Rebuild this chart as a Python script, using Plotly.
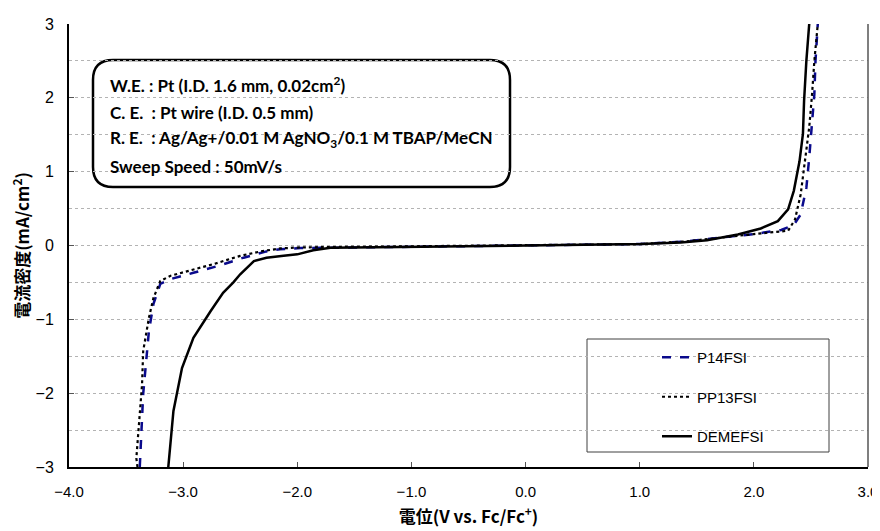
import plotly.graph_objects as go

# ---- data ----
p14_x = [-3.38, -3.35, -3.30, -3.26, -3.20, -3.10, -2.91, -2.70, -2.47, -2.27, -2.15, -1.97, -1.68, -1.16,
         -0.5, 0.0, 0.5, 1.0, 1.4, 1.7, 2.0, 2.24, 2.35, 2.41, 2.46, 2.485, 2.505, 2.53, 2.54, 2.56]
p14_y = [-3.0, -2.01, -1.16, -0.79, -0.52, -0.45, -0.37, -0.28, -0.165, -0.08, -0.05, -0.035, -0.03, -0.02,
         -0.01, 0.0, 0.005, 0.02, 0.055, 0.11, 0.155, 0.21, 0.28, 0.42, 0.78, 1.19, 1.60, 2.05, 2.50, 3.0]

pp13_x = [-3.40, -3.41, -3.38, -3.36, -3.35, -3.30, -3.26, -3.20, -3.11, -2.97, -2.73, -2.50, -2.32, -2.15,
          -1.97, -1.6, -1.0, -0.5, 0.0, 0.5, 1.0, 1.4, 1.7, 2.0, 2.30, 2.36, 2.41, 2.44, 2.485, 2.51, 2.53, 2.56]
pp13_y = [-3.0, -2.88, -2.28, -1.88, -1.43, -0.98, -0.71, -0.48, -0.41, -0.35, -0.25, -0.14, -0.08, -0.04,
          -0.025, -0.02, -0.01, -0.005, 0.0, 0.005, 0.02, 0.055, 0.11, 0.155, 0.2, 0.35, 0.69, 1.05, 1.6, 2.05, 2.5, 3.0]

deme_x = [-3.13, -3.085, -3.01, -2.91, -2.76, -2.65, -2.56, -2.50, -2.38, -2.27, -2.12, -2.00, -1.86, -1.71,
          -1.1, -0.5, 0.0, 0.54, 1.01, 1.36, 1.59, 1.86, 2.06, 2.21, 2.30, 2.35, 2.40, 2.43, 2.44, 2.46, 2.485]
deme_y = [-3.0, -2.24, -1.66, -1.25, -0.89, -0.64, -0.50, -0.39, -0.21, -0.165, -0.14, -0.12, -0.065, -0.03,
          -0.02, -0.01, 0.0, 0.005, 0.02, 0.04, 0.07, 0.15, 0.23, 0.33, 0.49, 0.74, 1.14, 1.51, 1.96, 2.50, 3.0]

series_names = ["P14FSI", "PP13FSI", "DEMEFSI"]
x_ticks = [-4, -3, -2, -1, 0, 1, 2, 3]
y_ticks = [-3, -2, -1, 0, 1, 2, 3]

info_lines = [
    "W.E. : Pt (I.D. 1.6 mm, 0.02cm<sup>2</sup>)",
    "C. E.  : Pt wire (I.D. 0.5 mm)",
    "R. E.  : Ag/Ag+/0.01 M AgNO<sub>3</sub>/0.1 M TBAP/MeCN",
    "Sweep Speed : 50mV/s",
]

AX_FONT = "Liberation Sans"

fig = go.Figure()
fig.add_trace(go.Scatter(x=p14_x, y=p14_y, mode="lines", name=series_names[0], legendgroup="a",
                         line=dict(color="#0a0a8c", width=2.5, dash="dash")))
fig.add_trace(go.Scatter(x=pp13_x, y=pp13_y, mode="lines", name=series_names[1], legendgroup="b",
                         line=dict(color="black", width=2.2, dash="dot")))
fig.add_trace(go.Scatter(x=deme_x, y=deme_y, mode="lines", name=series_names[2], legendgroup="c",
                         line=dict(color="black", width=2.5)))

# page has an 8px body margin; plot area in page pixels: x 69..868, y 24..467
OFF = 8
FW, FH = 880 - OFF, 531 - OFF
L, R, T, B = 69, 868, 24, 467
W, H = R - L, B - T


def px(xp):
    return (xp - L) / W


def py(yp):
    return (B - yp) / H


shapes = []
# rounded info box
x0, x1, y0, y1 = px(93), px(510), py(187), py(60)
rx, ry = 20 / W, 20 / H
path = (f"M{x0+rx},{y1} L{x1-rx},{y1} Q{x1},{y1} {x1},{y1-ry} L{x1},{y0+ry} Q{x1},{y0} {x1-rx},{y0} "
        f"L{x0+rx},{y0} Q{x0},{y0} {x0},{y0+ry} L{x0},{y1-ry} Q{x0},{y1} {x0+rx},{y1} Z")
shapes.append(dict(type="path", path=path, xref="paper", yref="paper", fillcolor="white",
                   line=dict(color="black", width=2.5), layer="between"))
# legend box
shapes.append(dict(type="rect", xref="paper", yref="paper", x0=px(587), x1=px(829), y0=py(452), y1=py(339),
                   fillcolor="white", line=dict(color="#404040", width=1), layer="between"))
# right border
shapes.append(dict(type="line", xref="paper", yref="paper", x0=1, x1=1, y0=0, y1=1,
                   line=dict(color="#555555", width=1.5)))

annotations = []
for i, t in enumerate(info_lines):
    annotations.append(dict(text=t, xref="paper", yref="paper", x=px(108), y=py(85 + 27 * i),
                            xanchor="left", yanchor="middle", showarrow=False, align="left",
                            font=dict(family="Lato", size=17, color="black", weight="bold")))

fig.update_layout(
    width=FW, height=FH,
    margin=dict(l=L - OFF, r=880 - R, t=T - OFF, b=531 - B),
    paper_bgcolor="white", plot_bgcolor="white",
    shapes=shapes, annotations=annotations,
    showlegend=True,
    legend=dict(x=px(657), y=py(341), xanchor="left", yanchor="top",
                bgcolor="rgba(0,0,0,0)", borderwidth=0,
                traceorder="grouped", tracegroupgap=17,
                font=dict(family=AX_FONT, size=15, color="black")),
    xaxis=dict(range=[-4, 3], tickvals=x_ticks, tickformat=".1f", automargin=False,
               ticks="inside", ticklen=5, tickcolor="#555555", tickwidth=1,
               showline=True, linecolor="black", linewidth=2,
               showgrid=False, zeroline=False,
               tickfont=dict(family=AX_FONT, size=15, color="black"), ticklabelstandoff=10,
               title=dict(text="<b>電位(V vs. Fc/Fc<sup>+</sup>)</b>", standoff=12,
                          font=dict(family="Noto Sans CJK JP", size=17, color="black"))),
    yaxis=dict(range=[-3, 3], tickvals=y_ticks, automargin=False,
               ticks="inside", ticklen=5, tickcolor="#555555", tickwidth=1,
               showline=True, linecolor="black", linewidth=2,
               showgrid=True, gridcolor="#b3b3b3", gridwidth=1.2, griddash="dot",
               minor=dict(dtick=0.5, showgrid=True, gridcolor="#b3b3b3", gridwidth=1.2, griddash="dot"),
               zeroline=False,
               tickfont=dict(family=AX_FONT, size=16, color="black"), ticklabelstandoff=10,
               title=dict(text="<b>電流密度(mA/cm<sup>2</sup>)</b>", standoff=12,
                          font=dict(family="Noto Sans CJK JP", size=17, color="black"))),
)

fig.write_html("out.html")
